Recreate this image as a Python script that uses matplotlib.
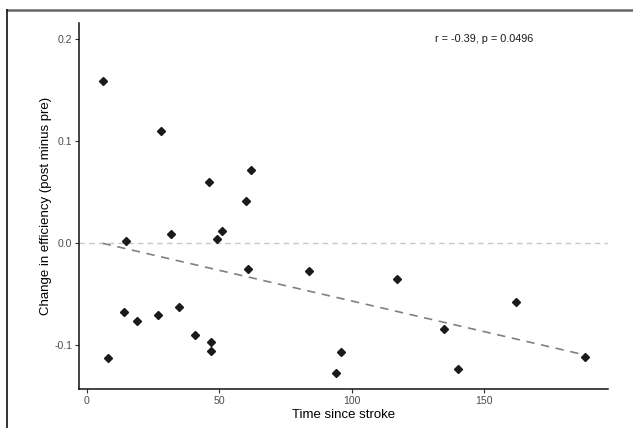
import numpy as np
import matplotlib
matplotlib.use("Agg")
import matplotlib.pyplot as plt
from matplotlib.lines import Line2D

plt.rcParams['font.family'] = ['Liberation Sans', 'DejaVu Sans']
plt.rcParams['axes.unicode_minus'] = False

time_since_stroke = [6, 8, 14, 15, 19, 27, 28, 32, 35, 41, 46, 47, 47, 49, 51,
                     60, 61, 62, 84, 94, 96, 117, 135, 140, 162, 188]
eff_change = [0.159, -0.113, -0.068, 0.002, -0.076, -0.070, 0.110, 0.009, -0.063,
              -0.090, 0.060, -0.097, -0.106, 0.004, 0.012, 0.041, -0.025, 0.072,
              -0.027, -0.127, -0.107, -0.035, -0.084, -0.123, -0.058, -0.112]
annotation = "r = -0.39, p = 0.0496"
x_ticks = [0, 50, 100, 150]
y_ticks = [-0.1, 0.0, 0.1, 0.2]
y_tick_labels = ["-0.1", "0.0", "0.1", "0.2"]

x = np.array(time_since_stroke, dtype=float)
y = np.array(eff_change, dtype=float)

fig = plt.figure(figsize=(6.33, 4.28), dpi=100)
ax = fig.add_axes([79/633, 1-389/428, (608-79)/633, (389-23)/428])

ax.axhline(0, color='#c8c8c8', lw=1.0, ls=(0, (4, 3)), zorder=1)
slope, intercept = np.polyfit(x, y, 1)
xs = np.array([x.min(), x.max()])
ax.plot(xs, intercept + slope * xs, color='#808080', lw=1.2, ls=(0, (5, 4)), zorder=2)
ax.plot(x, y, ls='none', marker='D', ms=4.0, color='#1a1a1a', mec='#1a1a1a', zorder=3)

ax.text(150, 0.2, annotation, ha='center', va='center', fontsize=7.8, color='#1a1a1a')

ax.set_xlim(-2.9, 196.7)
ax.set_ylim(-0.143, 0.2157)
ax.set_xticks(x_ticks)
ax.set_yticks(y_ticks)
ax.set_yticklabels(y_tick_labels)
ax.tick_params(axis='both', labelsize=7.6, labelcolor='#4d4d4d', color='#333333',
               length=3.0, width=0.8, pad=2.0)
for s in ['top', 'right']:
    ax.spines[s].set_visible(False)
for s in ['left', 'bottom']:
    ax.spines[s].set_linewidth(1.1)
    ax.spines[s].set_color('#111111')

ax.set_xlabel("Time since stroke", fontsize=9.5, color='black', labelpad=2)
ax.set_ylabel("Change in efficiency (post minus pre)", fontsize=9.5, color='black', labelpad=1.5)

fig.add_artist(Line2D([7/633, 1], [1-9.5/428, 1-9.5/428], transform=fig.transFigure,
                      color='#666666', lw=1.8))
fig.add_artist(Line2D([7/633, 7/633], [0, 1-9.5/428], transform=fig.transFigure,
                      color='#111111', lw=1.2))

fig.savefig("out.png", dpi=100)
